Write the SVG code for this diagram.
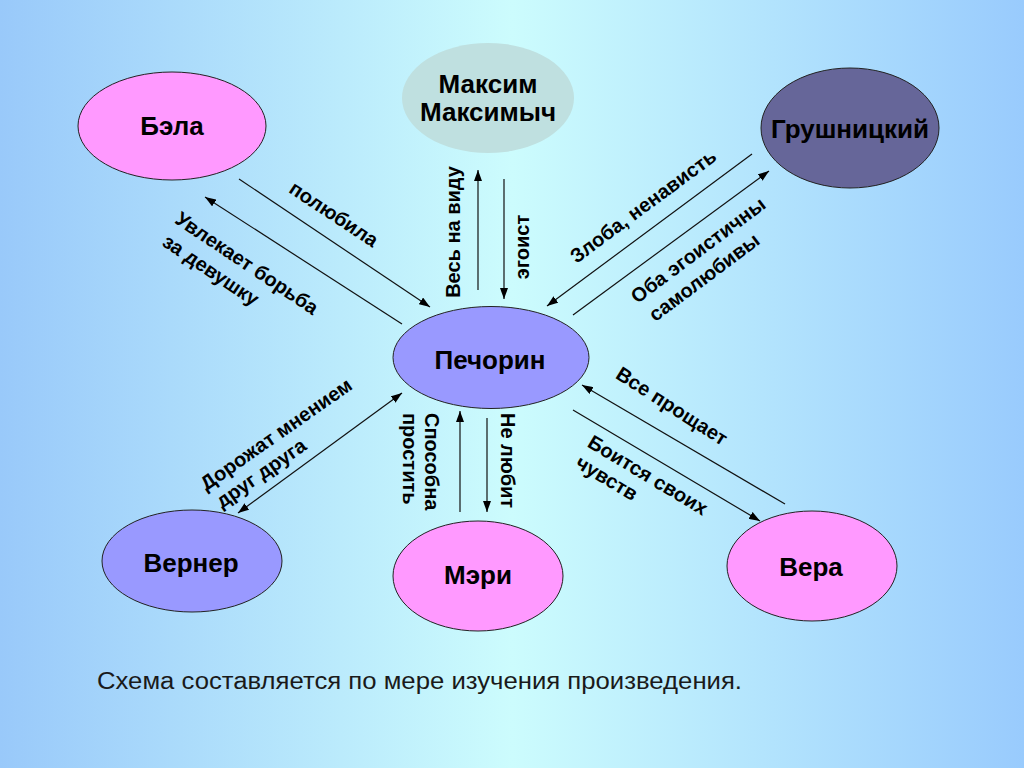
<svg xmlns="http://www.w3.org/2000/svg" width="1024" height="768" viewBox="0 0 1024 768">
<defs>
<linearGradient id="bg" x1="0" y1="0" x2="1" y2="0">
<stop offset="0" stop-color="#99c9fa"/>
<stop offset="0.5" stop-color="#ccfcfd"/>
<stop offset="1" stop-color="#99cbfd"/>
</linearGradient>
<marker id="ah" markerUnits="userSpaceOnUse" markerWidth="11" markerHeight="8" refX="11" refY="4" orient="auto-start-reverse">
<path d="M0,0 L11,4 L0,8 z" fill="#000"/>
</marker>
<style>
.node{stroke:#222;stroke-width:1}
.nt{font-family:"Liberation Sans",Arial,sans-serif;font-weight:bold;font-size:26px;fill:#000;text-anchor:middle}
.lb{font-family:"Liberation Sans",Arial,sans-serif;font-weight:bold;font-size:20px;fill:#000}
.c{text-anchor:middle}
.ln{stroke:#111;stroke-width:1.2;fill:none;marker-end:url(#ah)}
</style>
</defs>
<rect width="1024" height="768" fill="url(#bg)"/>

<g id="connectors">
<line class="ln" x1="239" y1="179" x2="430" y2="307"/>
<line class="ln" x1="402" y1="324" x2="205" y2="197"/>
<line class="ln" x1="478" y1="290" x2="478" y2="170"/>
<line class="ln" x1="504" y1="179" x2="504" y2="299"/>
<line class="ln" x1="752" y1="154" x2="547" y2="306"/>
<line class="ln" x1="573" y1="315" x2="769" y2="171"/>
<line class="ln" x1="238" y1="513" x2="402" y2="393" style="marker-start:url(#ah)"/>
<line class="ln" x1="460" y1="512" x2="460" y2="411"/>
<line class="ln" x1="487" y1="418" x2="487" y2="512"/>
<line class="ln" x1="785" y1="504" x2="582" y2="385"/>
<line class="ln" x1="573" y1="410" x2="760" y2="521"/>

<text class="lb c" transform="translate(334,214) rotate(33.5)" dy="0.35em">полюбила</text>
<text class="lb c" transform="translate(247,263) rotate(33.8)" dy="0.35em">Увлекает борьба</text>
<text class="lb c" transform="translate(211,270) rotate(33.8)" dy="0.35em">за девушку</text>
<text class="lb c" transform="translate(453,232) rotate(-90)" dy="0.35em">Весь на виду</text>
<text class="lb c" transform="translate(522,247) rotate(-90)" dy="0.35em">эгоист</text>
<text class="lb c" transform="translate(643,206) rotate(-36.5)" dy="0.35em">Злоба, ненависть</text>
<text class="lb c" transform="translate(698,250) rotate(-36.8)" dy="0.35em">Оба эгоистичны</text>
<text class="lb c" transform="translate(704,277) rotate(-36.8)" dy="0.35em">самолюбивы</text>
<text class="lb c" transform="translate(276,434) rotate(-35)" dy="0.35em">Дорожат мнением</text>
<text class="lb c" transform="translate(261,473) rotate(-35)" dy="0.35em">друг друга</text>
<text class="lb" transform="translate(432,413) rotate(90)" dy="0.35em">Способна</text>
<text class="lb" transform="translate(410,413) rotate(90)" dy="0.35em">простить</text>
<text class="lb" transform="translate(508,413) rotate(90)" dy="0.35em">Не любит</text>
<text class="lb c" transform="translate(672,406) rotate(32.5)" dy="0.35em">Все прощает</text>
<text class="lb c" transform="translate(648,475) rotate(31)" dy="0.35em">Боится своих</text>
<text class="lb c" transform="translate(607,478) rotate(31)" dy="0.35em">чувств</text>
</g>

<g id="bela">
<ellipse class="node" cx="172" cy="126" rx="94" ry="54" fill="#ff99ff"/>
<text class="nt" x="172" y="135">Бэла</text>
</g>
<g id="maksim">
<ellipse cx="488" cy="98" rx="86" ry="55" fill="#bfe0e0"/>
<text class="nt" x="488" y="93">Максим</text>
<text class="nt" x="488" y="121">Максимыч</text>
</g>
<g id="grushnitsky">
<ellipse class="node" cx="850" cy="128" rx="89" ry="60" fill="#666699"/>
<text class="nt" x="850" y="138">Грушницкий</text>
</g>
<g id="pechorin">
<ellipse class="node" cx="491" cy="357.5" rx="98" ry="51" fill="#9999ff"/>
<text class="nt" x="490" y="369">Печорин</text>
</g>
<g id="verner">
<ellipse class="node" cx="192" cy="561" rx="90" ry="51" fill="#9999ff"/>
<text class="nt" x="191" y="572">Вернер</text>
</g>
<g id="meri">
<ellipse class="node" cx="478" cy="576" rx="85" ry="55" fill="#ff99ff"/>
<text class="nt" x="478" y="584">Мэри</text>
</g>
<g id="vera">
<ellipse class="node" cx="812" cy="566" rx="85" ry="55" fill="#ff99ff"/>
<text class="nt" x="811" y="576">Вера</text>
</g>

<text x="97" y="689" font-family="'Liberation Sans',Arial,sans-serif" font-size="23" fill="#1a1a1a" textLength="645" lengthAdjust="spacingAndGlyphs">Схема составляется по мере изучения произведения.</text>
</svg>
